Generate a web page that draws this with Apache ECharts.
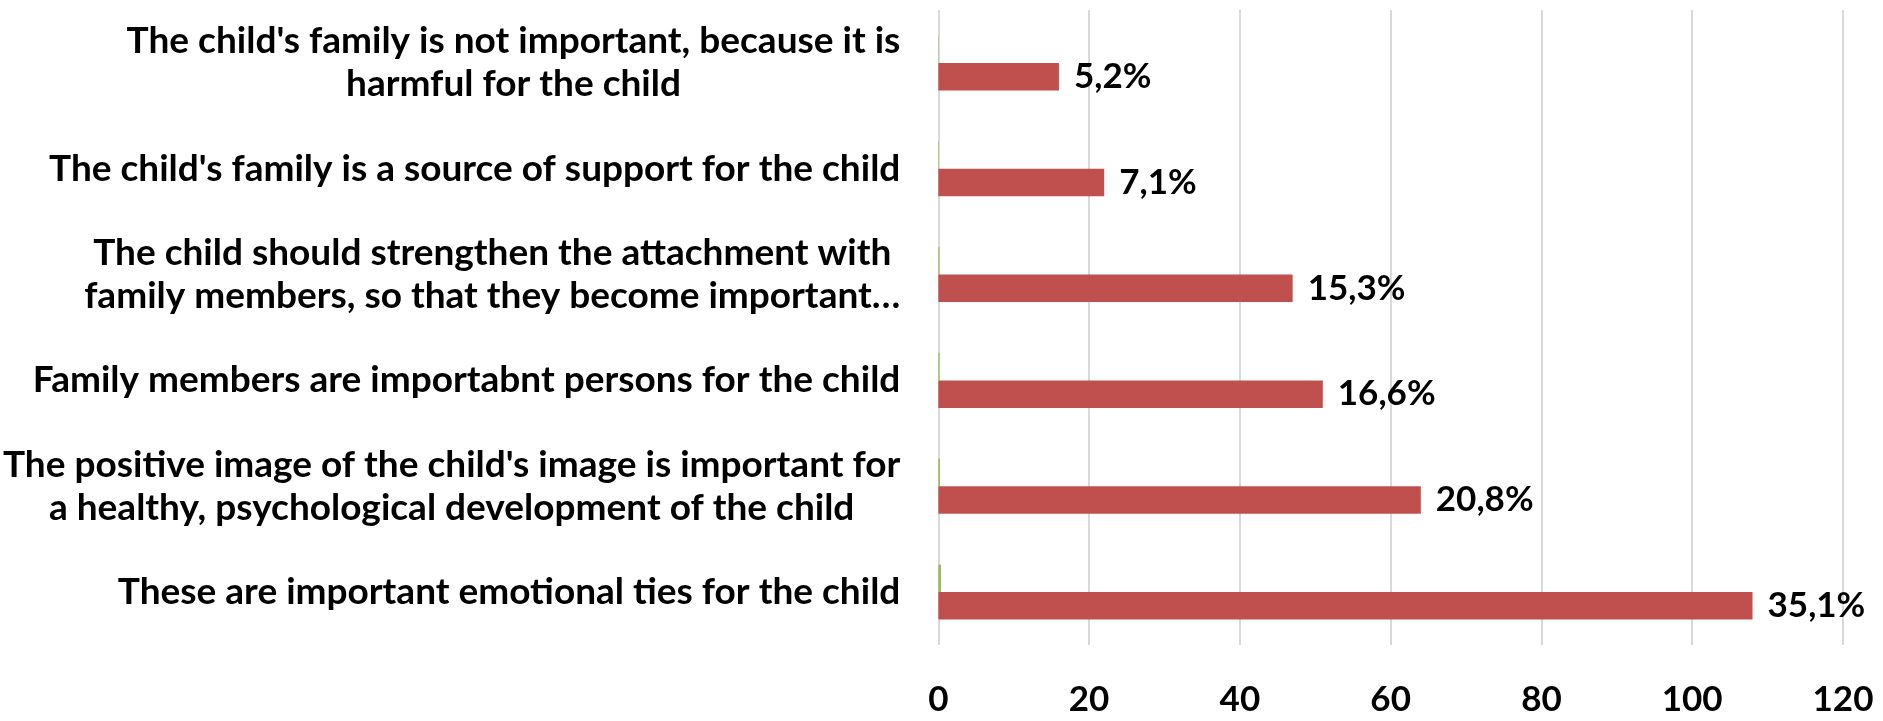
<!DOCTYPE html>
<html>
<head>
<meta charset="utf-8">
<script src="https://cdn.jsdelivr.net/npm/echarts@6/dist/echarts.min.js"></script>
<style>
  html, body { margin: 0; padding: 0; background: #ffffff; }
  #chart { width: 1883px; height: 721px; }
</style>
</head>
<body>
<div id="chart"></div>
<script>
// Statements, listed top to bottom
const categories = [
  "The child's family is not important, because it is\nharmful for the child",
  "The child's family is a source of support for the child",
  "The child should strengthen the attachment with\nfamily members, so that they become important…",
  "Family members are importabnt persons for the child",
  "The positive image of the child's image is important for\na healthy, psychological development of the child",
  "These are important emotional ties for the child"
];
// Number of answers per statement
const counts = [16, 22, 47, 51, 64, 108];
// Share of answers, in percent
const percents = [5.2, 7.1, 15.3, 16.6, 20.8, 35.1];
// Share of answers as a fraction (second, tiny series)
const shares = percents.map(p => p / 100);
// Value axis ticks
const xTicks = { min: 0, max: 120, interval: 20 };

const FONT = 'Lato';
const chart = echarts.init(document.getElementById('chart'), null, { renderer: 'canvas' });

chart.setOption({
  backgroundColor: '#ffffff',
  animation: false,
  grid: { left: 937, right: 40, top: 10, bottom: 76, containLabel: false },
  xAxis: {
    type: 'value',
    min: xTicks.min, max: xTicks.max, interval: xTicks.interval,
    axisLine: { show: false },
    axisTick: { show: false },
    splitLine: { show: true, lineStyle: { color: '#D9D9D9', width: 2 } },
    axisLabel: {
      margin: 37, color: '#000000', fontFamily: FONT, fontWeight: 'bold', fontSize: 35
    }
  },
  yAxis: {
    type: 'category',
    inverse: true,
    data: categories,
    axisLine: { show: false },
    axisTick: { show: false },
    axisLabel: {
      margin: 38,
      formatter: v => v.split('\n').map(line => '{c|' + line + '}').join('\n'),
      rich: {
        c: { align: 'center', color: '#000000', fontFamily: FONT, fontWeight: 'bold', fontSize: 37, lineHeight: 43 }
      }
    }
  },
  series: [
    {
      name: 'Share',
      type: 'bar',
      data: shares,
      barWidth: 27.5,
      barGap: '0%',
      itemStyle: { color: '#9BBB59' },
      silent: true
    },
    {
      name: 'Answers',
      type: 'bar',
      data: counts,
      barWidth: 27.5,
      barGap: '0%',
      itemStyle: { color: '#C0504D' },
      label: {
        show: true,
        position: 'right',
        distance: 15,
        color: '#000000',
        fontFamily: FONT,
        fontWeight: 'bold',
        fontSize: 35,
        formatter: p => String(percents[p.dataIndex]).replace('.', ',') + '%'
      }
    }
  ]
});
</script>
</body>
</html>
